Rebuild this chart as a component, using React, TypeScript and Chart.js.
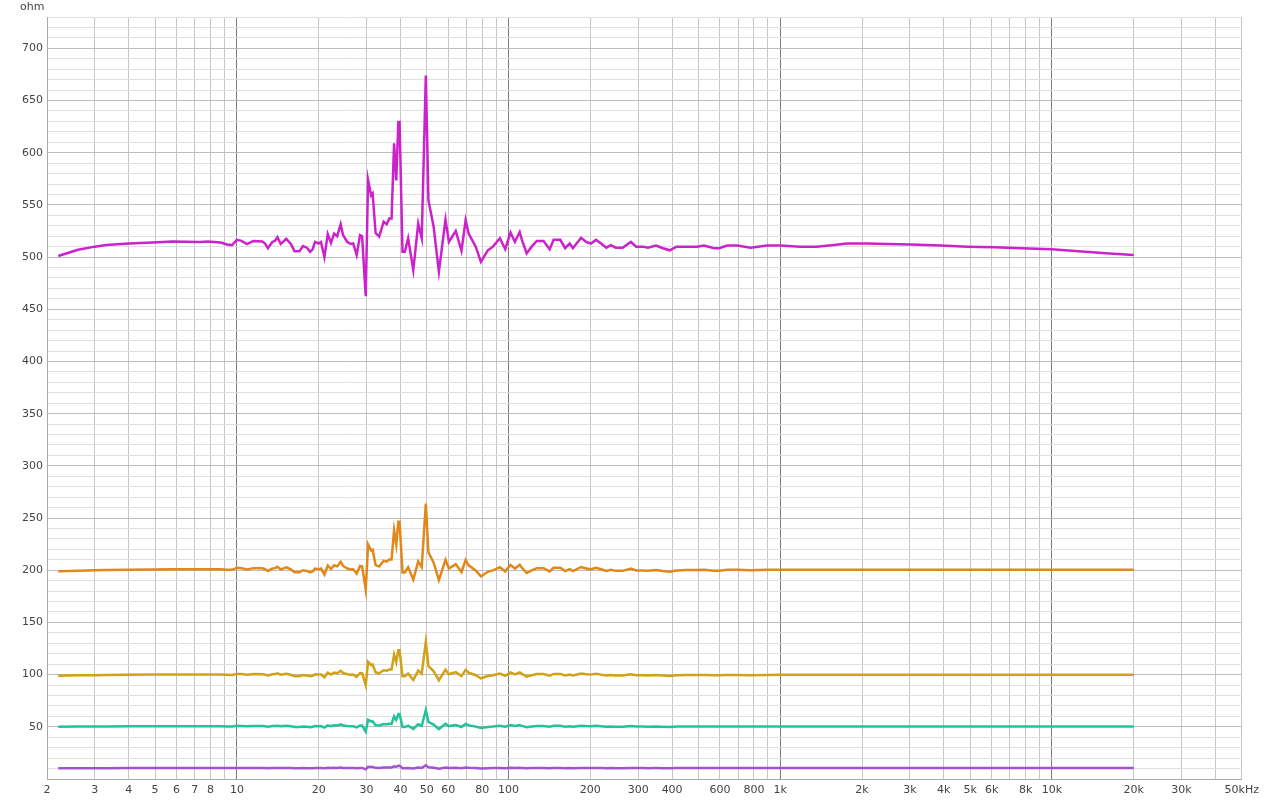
import React, { useEffect, useRef } from "react";
import { Chart, registerables } from "chart.js";

Chart.register(...registerables);

const FREQ = [
  2.2, 2.6, 3.0, 3.3, 4.0, 4.9, 5.8, 7.3, 7.8, 8.7,
  9.2, 9.6, 10.0, 10.4, 10.9, 11.5, 12.4, 12.7, 13.0, 13.5,
  13.8, 14.1, 14.5, 15.2, 15.8, 16.3, 17.0, 17.5, 18.1, 18.6,
  19.0, 19.4, 20.0, 20.4, 21.0, 21.6, 22.2, 22.8, 23.4, 24.1,
  24.6, 25.5, 26.3, 26.8, 27.6, 28.4, 28.9, 29.8, 30.4, 31.2,
  31.6, 32.4, 33.4, 34.7, 35.6, 36.4, 37.1, 37.9, 38.6, 39.3,
  39.7, 40.7, 41.5, 42.7, 44.6, 46.5, 47.9, 49.6, 50.7, 53.0,
  55.4, 58.6, 60.3, 63.9, 67.1, 69.5, 71.3, 75.7, 79.1, 83.9,
  87.6, 92.9, 97.2, 101.7, 105.5, 109.9, 112, 116.6, 121.6, 127,
  134.5, 141.7, 146.5, 155, 161.5, 168, 172.5, 185, 193, 201,
  210, 219, 229, 238, 248, 263, 282, 295, 313, 326,
  349, 370, 392, 415, 453, 494, 524, 571, 596, 638,
  694, 778, 895, 1000, 1184, 1364, 1574, 1762, 2088, 2475,
  3016, 3897, 4890, 6142, 7719, 9960, 13287, 16234, 20000,
];

const MAGENTA = [
  501, 507, 510, 511.5, 513, 514, 515, 514.5, 515, 514,
  512, 511.5, 516.5, 515.5, 512.5, 515.5, 515, 513, 508.5, 514.5,
  515.5, 519, 512.5, 517.5, 512.5, 505.5, 505.5, 510.5, 509, 505,
  507.5, 514.5, 513, 514.5, 500, 522, 513.5, 522.5, 520, 531.5,
  521, 514.5, 512.5, 513, 502, 521, 520, 462.5, 574, 559,
  561, 523, 519.5, 534, 531.5, 537, 537, 609, 573.5, 629.5,
  629.5, 505, 505, 518, 487.5, 532, 518, 674, 554.5, 529,
  486, 536, 514.5, 525, 506, 535.5, 522.5, 510, 495.5, 506.5,
  510, 518, 507.5, 523.5, 514.5, 524, 516.5, 503.5, 510, 515.5,
  515.5, 507.5, 516.5, 516.5, 508.5, 513, 508.5, 518.5, 514.5, 513,
  516.5, 513, 509, 511.5, 509, 509, 514.5, 510, 510, 509,
  511, 508.5, 506.5, 510, 510, 510, 511, 508.5, 508.5, 511,
  511, 509, 511, 511, 510, 510, 511.5, 513, 513, 512.5,
  512, 511, 510, 509.5, 508.5, 507.5, 505, 503.5, 502,
];

const ORANGE = [
  199, 199.5, 200, 200.3, 200.5, 200.7, 201, 201, 201, 201,
  200.5, 200.4, 202.4, 202, 200.8, 202, 201.8, 201, 199.2, 201.6,
  202, 203.3, 200.8, 202.8, 200.8, 198.1, 198.1, 200, 199.4, 197.9,
  198.9, 201.6, 201, 201.6, 195.9, 204.5, 201.2, 204.7, 203.7, 208.2,
  204.1, 201.6, 200.8, 201, 196.7, 204.1, 203.7, 181.3, 224.8, 218.9,
  219.7, 204.9, 203.5, 209.2, 208.2, 210.4, 210.4, 238.4, 224.6, 246.4,
  246.4, 197.9, 197.9, 203, 191.1, 208.4, 203, 263.8, 217.2, 207.2,
  190.5, 210, 201.6, 205.7, 198.3, 209.8, 204.7, 199.8, 194.2, 198.5,
  199.8, 203, 198.9, 205.1, 201.6, 205.3, 202.4, 197.3, 199.8, 202,
  202, 198.9, 202.4, 202.4, 199.2, 201, 199.2, 203.1, 201.6, 201,
  202.4, 201, 199.4, 200.4, 199.4, 199.4, 201.6, 199.8, 199.8, 199.4,
  200.2, 199.2, 198.5, 199.8, 200.2, 200.2, 200.5, 199.6, 199.6, 200.5,
  200.5, 199.9, 200.5, 200.5, 200.5, 200.5, 200.5, 200.5, 200.5, 200.5,
  200.5, 200.5, 200.5, 200.5, 200.5, 200.5, 200.5, 200.5, 200.5,
];

const GOLD = [
  99, 99.3, 99.5, 99.7, 99.8, 100, 100, 100, 100, 100,
  99.8, 99.7, 100.7, 100.5, 99.9, 100.5, 100.4, 100, 99.1, 100.3,
  100.5, 101.2, 99.9, 100.9, 99.9, 98.5, 98.5, 99.5, 99.2, 98.4,
  98.9, 100.3, 100, 100.3, 97.4, 101.8, 100.1, 101.9, 101.4, 103.7,
  101.6, 100.3, 99.9, 100, 97.8, 101.6, 101.4, 89.9, 112.2, 109.2,
  109.6, 102, 101.3, 104.2, 103.7, 104.8, 104.8, 119.2, 112.1, 123.3,
  123.3, 98.4, 98.4, 101, 94.9, 103.8, 101, 131.5, 108.3, 103.2,
  94.6, 104.6, 100.3, 102.4, 98.6, 104.5, 101.9, 99.4, 96.5, 98.7,
  99.4, 101, 98.9, 102.1, 100.3, 102.2, 100.7, 98.1, 99.4, 100.5,
  100.5, 98.9, 100.7, 100.7, 99.1, 100, 99.1, 101.1, 100.3, 100,
  100.7, 100, 99.2, 99.7, 99.2, 99.2, 100.3, 99.4, 99.4, 99.2,
  99.6, 99.1, 98.7, 99.4, 99.6, 99.6, 99.7, 99.3, 99.3, 99.7,
  99.7, 99.5, 99.7, 99.8, 99.8, 99.8, 99.8, 99.8, 99.8, 99.8,
  99.8, 99.8, 99.8, 99.8, 99.8, 99.8, 99.8, 99.8, 99.8,
];

const TEAL = [
  50, 50.2, 50.3, 50.4, 50.5, 50.5, 50.5, 50.5, 50.5, 50.5,
  50.4, 50.4, 50.9, 50.8, 50.5, 50.8, 50.7, 50.5, 50.1, 50.7,
  50.8, 51.1, 50.5, 51, 50.5, 49.8, 49.8, 50.3, 50.1, 49.7,
  50, 50.7, 50.5, 50.7, 49.2, 51.4, 50.6, 51.5, 51.2, 52.4,
  51.3, 50.7, 50.5, 50.5, 49.4, 51.3, 51.2, 45.5, 56.6, 55.1,
  55.3, 51.5, 51.2, 52.6, 52.4, 52.9, 52.9, 60.1, 56.6, 62.2,
  62.2, 49.7, 49.7, 51, 48, 52.4, 51, 66, 54.7, 52.1,
  47.8, 52.8, 50.7, 51.7, 49.8, 52.8, 51.5, 50.2, 48.8, 49.9,
  50.2, 51, 50, 51.6, 50.7, 51.6, 50.9, 49.6, 50.2, 50.8,
  50.8, 50, 50.9, 50.9, 50.1, 50.5, 50.1, 51.1, 50.7, 50.5,
  50.9, 50.5, 50.1, 50.4, 50.1, 50.1, 50.7, 50.2, 50.2, 50.1,
  50.3, 50.1, 49.9, 50.2, 50.3, 50.3, 50.4, 50.2, 50.2, 50.4,
  50.4, 50.3, 50.4, 50.4, 50.4, 50.4, 50.4, 50.4, 50.4, 50.4,
  50.4, 50.4, 50.4, 50.4, 50.4, 50.4, 50.4, 50.4, 50.4,
];

const PURPLE = [
  10.3, 10.3, 10.4, 10.4, 10.5, 10.5, 10.5, 10.5, 10.5, 10.5,
  10.5, 10.5, 10.6, 10.55, 10.5, 10.55, 10.5, 10.5, 10.4, 10.5,
  10.55, 10.6, 10.5, 10.6, 10.5, 10.35, 10.35, 10.45, 10.4, 10.35,
  10.4, 10.5, 10.5, 10.5, 10.25, 10.7, 10.5, 10.7, 10.65, 10.9,
  10.65, 10.5, 10.5, 10.5, 10.3, 10.65, 10.65, 9.3, 11.7, 11.4,
  11.5, 10.7, 10.6, 10.9, 10.9, 11, 11, 12.2, 11.7, 12.6,
  12.6, 10.35, 10.35, 10.6, 10, 10.9, 10.6, 13.2, 11.3, 10.8,
  9.95, 11, 10.5, 10.75, 10.35, 10.95, 10.7, 10.45, 10.15, 10.4,
  10.45, 10.6, 10.4, 10.7, 10.5, 10.7, 10.6, 10.3, 10.45, 10.55,
  10.55, 10.4, 10.6, 10.6, 10.4, 10.5, 10.4, 10.6, 10.5, 10.5,
  10.6, 10.5, 10.4, 10.5, 10.4, 10.4, 10.5, 10.45, 10.45, 10.4,
  10.45, 10.4, 10.4, 10.45, 10.45, 10.45, 10.5, 10.45, 10.45, 10.5,
  10.5, 10.45, 10.5, 10.5, 10.5, 10.5, 10.5, 10.5, 10.5, 10.5,
  10.5, 10.5, 10.5, 10.5, 10.5, 10.5, 10.5, 10.5, 10.5,
];

// Axis grid positions and tick labels
const X_GRID = [
  2, 3, 4, 5, 6, 7, 8, 9,
  10, 20, 30, 40, 50, 60, 70, 80, 90,
  100, 200, 300, 400, 500, 600, 700, 800, 900,
  1000, 2000, 3000, 4000, 5000, 6000, 7000, 8000, 9000,
  10000, 20000, 30000, 40000, 50000,
];
const X_LABEL_VALUES = [2, 3, 4, 5, 6, 7, 8, 10, 20, 30, 40, 50, 60, 80, 100, 200, 300, 400, 600, 800, 1000, 2000, 3000, 4000, 5000, 6000, 8000, 10000, 20000, 30000, 50000];
const X_LABELS = ["2", "3", "4", "5", "6", "7", "8", "10", "20", "30", "40", "50", "60", "80", "100", "200", "300", "400", "600", "800", "1k", "2k", "3k", "4k", "5k", "6k", "8k", "10k", "20k", "30k", "50kHz"];
const X_DECADES = [10, 100, 1000, 10000];
const Y_MIN = 0;
const Y_MAX = 730;
const Y_LABELS = [50, 100, 150, 200, 250, 300, 350, 400, 450, 500, 550, 600, 650, 700];

const SERIES = [
  { name: "purple", values: PURPLE, color: "#a352d2" },
  { name: "teal", values: TEAL, color: "#22c29c" },
  { name: "gold", values: GOLD, color: "#d2a216" },
  { name: "orange", values: ORANGE, color: "#e0891a" },
  { name: "magenta", values: MAGENTA, color: "#cb22cc" },
];

const FONT = { family: "'DejaVu Sans', Verdana, sans-serif", size: 11 };

export default function App() {
  const ref = useRef<HTMLCanvasElement | null>(null);

  useEffect(() => {
    if (!ref.current) return;
    const chart = new Chart(ref.current, {
      type: "line",
      data: {
        datasets: SERIES.map((s) => ({
          label: s.name,
          data: FREQ.map((f, i) => ({ x: f, y: s.values[i] })),
          borderColor: s.color,
          backgroundColor: s.color,
          borderWidth: 2.5,
          pointRadius: 0,
          tension: 0,
          fill: false,
        })),
      },
      options: {
        animation: false,
        responsive: false,
        maintainAspectRatio: false,
        layout: { padding: { top: 17, right: 22, left: 0, bottom: 0 } },
        plugins: {
          legend: { display: false },
          tooltip: { enabled: false },
        },
        scales: {
          x: {
            type: "logarithmic",
            min: 2,
            max: 50000,
            afterBuildTicks: (scale: any) => {
              scale.ticks = X_GRID.map((v) => ({ value: v }));
            },
            afterFit: (scale: any) => {
              scale.height = 24;
            },
            ticks: {
              autoSkip: false,
              maxRotation: 0,
              minRotation: 0,
              padding: 5,
              color: "#444",
              font: FONT,
              callback: (value: any) => {
                const idx = X_LABEL_VALUES.indexOf(Number(value));
                return idx >= 0 ? X_LABELS[idx] : "";
              },
            },
            grid: {
              drawTicks: false,
              color: (ctx: any) =>
                ctx.tick && X_DECADES.includes(ctx.tick.value) ? "#7c7c7c" : "#c6c6c6",
              lineWidth: 1,
            },
            border: { display: true, color: "#a8a8a8" },
          },
          y: {
            type: "linear",
            min: Y_MIN,
            max: Y_MAX,
            afterBuildTicks: (scale: any) => {
              const t: any[] = [];
              for (let v = Y_MIN; v <= Y_MAX; v += 10) t.push({ value: v });
              scale.ticks = t;
            },
            afterFit: (scale: any) => {
              scale.width = 47;
            },
            ticks: {
              autoSkip: false,
              padding: 4,
              color: "#444",
              font: FONT,
              callback: (value: any) =>
                Y_LABELS.includes(Number(value)) ? String(value) : "",
            },
            grid: {
              drawTicks: false,
              color: (ctx: any) =>
                ctx.tick && ctx.tick.value % 50 === 0 ? "#bcbcbc" : "#e0e0e0",
              lineWidth: 1,
            },
            border: { display: true, color: "#a8a8a8" },
          },
        },
      },
    });
    return () => chart.destroy();
  }, []);

  return (
    <div style={{ position: "absolute", left: 0, top: 0, width: 1264, height: 803, background: "#fff" }}>
      <canvas ref={ref} width={1264} height={803} style={{ width: 1264, height: 803, display: "block" }} />
      <span
        style={{
          position: "absolute",
          left: 20,
          top: 1,
          fontFamily: "'DejaVu Sans', Verdana, sans-serif",
          fontSize: 11,
          lineHeight: "11px",
          color: "#444",
        }}
      >
        ohm
      </span>
    </div>
  );
}
